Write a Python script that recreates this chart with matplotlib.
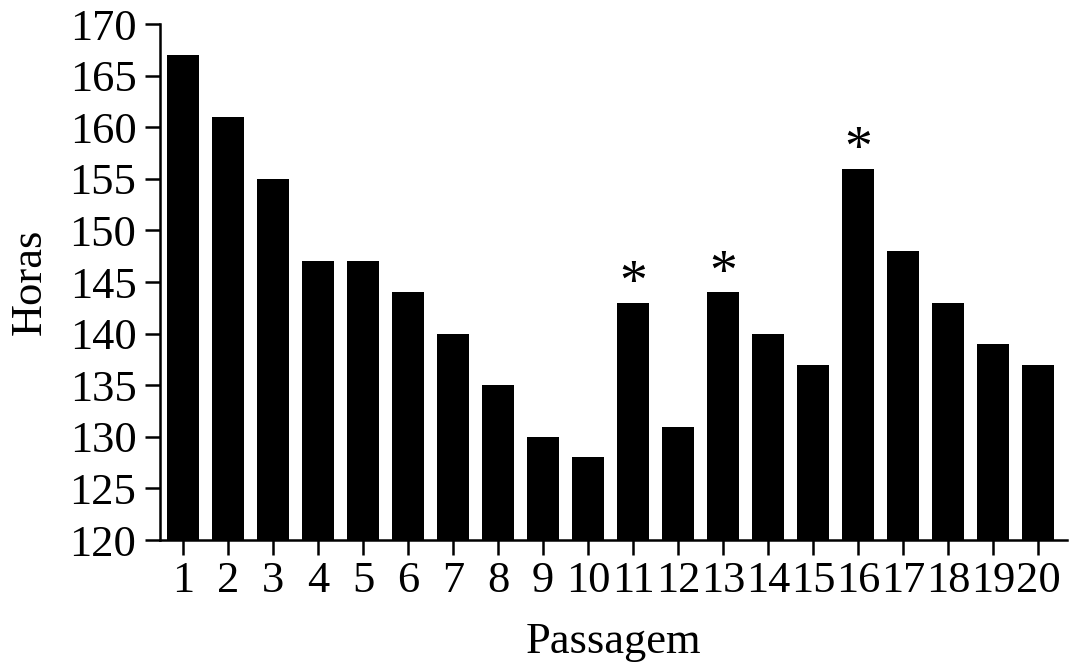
import matplotlib.pyplot as plt
import numpy as np

plt.rcParams["font.family"] = ["Liberation Serif", "DejaVu Serif"]

passages = list(range(1, 21))
hours = [167, 161, 155, 147, 147, 144, 140, 135, 130, 128,
         143, 131, 144, 140, 137, 156, 148, 143, 139, 137]
starred = [11, 13, 16]

fig = plt.figure(figsize=(10.74, 6.71), dpi=100)
ax = fig.add_axes([0.149, 0.1952, 0.8445, 0.769])

ax.bar(passages, hours, width=0.71, color="black", bottom=0)
for p in starred:
    ax.text(p, hours[p - 1] + 0.35, "*", ha="center", va="baseline", fontsize=40)

ax.set_xlim(0.49, 20.64)
ax.set_ylim(120, 170)
ax.set_yticks(np.arange(120, 171, 5))
ax.set_xticks(passages)
ax.tick_params(axis="both", labelsize=32, width=1.8, length=11, direction="out")
ax.tick_params(axis="y", pad=6)
ax.tick_params(axis="x", pad=4)
ax.spines[["top", "right"]].set_visible(False)
for side in ("left", "bottom"):
    ax.spines[side].set_linewidth(1.8)

ax.set_ylabel("Horas", fontsize=32, labelpad=14)
ax.set_xlabel("Passagem", fontsize=32, labelpad=15)

fig.savefig("out.png", dpi=100, facecolor="white")
